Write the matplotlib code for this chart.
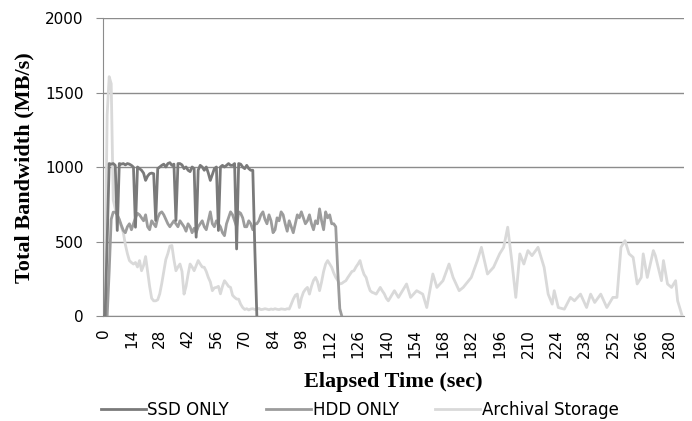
import numpy as np
import matplotlib
matplotlib.use('Agg')
import matplotlib.pyplot as plt

# SSD ONLY
ssd_t = [0, 1, 2, 3, 4, 5, 6, 7, 8, 9, 10, 11, 12, 13, 14, 15, 16, 17, 18, 19, 20,
         21, 22, 23, 24, 25, 26, 27, 28, 29, 30, 31, 32, 33, 34, 35, 36, 37, 38, 39, 40,
         41, 42, 43, 44, 45, 46, 47, 48, 49, 50, 51, 52, 53, 54, 55, 56, 57, 58, 59, 60,
         61, 62, 63, 64, 65, 66, 67, 68, 69, 70, 71, 72, 73, 74, 75, 76]
ssd_v = [0, 0, 500, 1024, 1020, 1024, 1012, 575, 1024, 1020, 1024, 1015, 1024, 1020, 1012, 1000, 597, 1001, 990, 979, 960,
         911, 940, 956, 960, 956, 642, 990, 1001, 1012, 1020, 1001, 1024, 1030, 1012, 1020, 642, 1024, 1024, 1015, 990,
         1001, 979, 970, 1001, 990, 530, 980, 1012, 1001, 979, 1001, 960, 911, 950, 990, 1001, 575, 1001, 1012, 1001,
         1012, 1024, 1012, 1012, 1024, 451, 1024, 1020, 1001, 990, 1012, 990, 979, 979, 450, 0]

# HDD ONLY
hdd_t = list(range(0, 119))
hdd_v = [0, 0, 0, 300, 650, 698, 698, 680, 650, 610, 575, 560, 600, 620, 580, 620, 660, 690, 680, 660,
         640, 680, 600, 580, 640, 620, 600, 660, 690, 700, 680, 650, 620, 600, 620, 640, 620, 600, 640, 620,
         600, 570, 620, 600, 560, 590, 560, 600, 620, 640, 600, 580, 640, 700, 620, 600, 640, 620, 600, 560,
         540, 620, 660, 700, 680, 640, 600, 700, 690, 660, 600, 600, 640, 620, 580, 620, 620, 640, 680, 700,
         650, 620, 680, 640, 560, 580, 660, 640, 700, 680, 620, 570, 640, 600, 560, 620, 680, 660, 700, 660,
         620, 640, 680, 620, 580, 640, 620, 720, 640, 580, 700, 660, 680, 620, 620, 600, 300, 50, 0]

# Archival Storage
arc_t = list(range(0, 142)) + [144, 146, 150, 152, 155, 158, 160, 163, 165, 168, 171, 173, 176, 178,
                               182, 185, 187, 190, 193, 196, 198, 200, 202, 204, 206, 208, 210, 212,
                               215, 218, 220, 222, 223, 225, 228, 231, 233, 236, 239, 241, 243, 246,
                               249, 252, 254, 256, 258, 260, 262, 264, 266, 267, 269, 272, 273, 276,
                               277, 279, 281, 283, 284, 286]
arc_v = [0, 250, 1350, 1607, 1560, 780, 720, 680, 640, 600, 560, 480, 420, 373, 360, 350, 360, 330, 373, 305,
         340, 400, 300, 200, 120, 103, 103, 110, 150, 220, 300, 380, 420, 470, 474, 380, 305, 330, 350, 300,
         148, 200, 280, 350, 330, 305, 340, 373, 350, 330, 328, 300, 260, 230, 171, 190, 193, 200, 150, 200,
         238, 220, 200, 193, 140, 126, 115, 114, 80, 58, 45, 50, 42, 48, 50, 45, 47, 52, 44, 46,
         50, 47, 43, 48, 45, 50, 46, 44, 49, 47, 45, 50, 48, 80, 114, 140, 148, 58, 120, 160,
         180, 193, 148, 200, 240, 260, 230, 171, 230, 300, 350, 373, 350, 328, 290, 260, 240, 216, 220, 230,
         238, 260, 280, 300, 305, 330, 350, 373, 320, 280, 260, 210, 171, 160, 155, 148, 170, 193, 170, 150,
         120, 103,
         171, 126, 216, 126, 171, 148, 58, 283, 193, 238, 350, 260, 171, 193,
         260, 373, 462, 283, 328, 418, 462, 597, 373, 126, 418, 350, 440, 406,
         462, 328, 148, 81, 171, 58, 47, 126, 103, 148, 58, 148, 92, 148,
         58, 126, 126, 462, 507, 418, 395, 216, 260, 418, 260, 440, 406, 238,
         373, 216, 193, 238, 103, 13]

x_ticks = np.arange(0, 281, 14)
y_ticks = [0, 500, 1000, 1500, 2000]

fig = plt.figure(figsize=(6.92, 4.21), dpi=100)
ax = fig.add_axes([0.149, 0.249, 0.839, 0.708])

ax.plot(ssd_t, ssd_v, color='#7a7a7a', lw=2.0, label='SSD ONLY', zorder=4)
ax.plot(hdd_t, hdd_v, color='#9c9c9c', lw=2.0, label='HDD ONLY', zorder=3)
ax.plot(arc_t, arc_v, color='#d9d9d9', lw=2.0, label='Archival Storage', zorder=2)

ax.set_xlim(0, 287)
ax.set_ylim(0, 2000)
ax.set_yticks(y_ticks)
ax.set_xticks(x_ticks)
ax.set_xticklabels([str(t) for t in x_ticks], rotation=90, fontsize=11)
ax.tick_params(axis='y', labelsize=11, length=5, color='#8c8c8c', pad=9)
ax.tick_params(axis='x', length=0, pad=9)
ax.grid(axis='y', color='#8c8c8c', lw=1.0)
ax.set_axisbelow(True)
for s in ['top', 'right']:
    ax.spines[s].set_visible(False)
ax.spines['left'].set_color('#8c8c8c')
ax.spines['bottom'].set_color('#8c8c8c')

ax.set_xlabel('Elapsed Time (sec)', family='Liberation Serif', fontweight='bold', fontsize=16, labelpad=10)
ax.set_ylabel('Total Bandwidth (MB/s)', family='Liberation Serif', fontweight='bold', fontsize=16, labelpad=8)

fig.legend(loc='lower center', bbox_to_anchor=(0.52, -0.03), ncol=3, frameon=False, fontsize=12,
           handlelength=2.7, handletextpad=0.1, columnspacing=2.2)

fig.savefig('out.png', dpi=100)
